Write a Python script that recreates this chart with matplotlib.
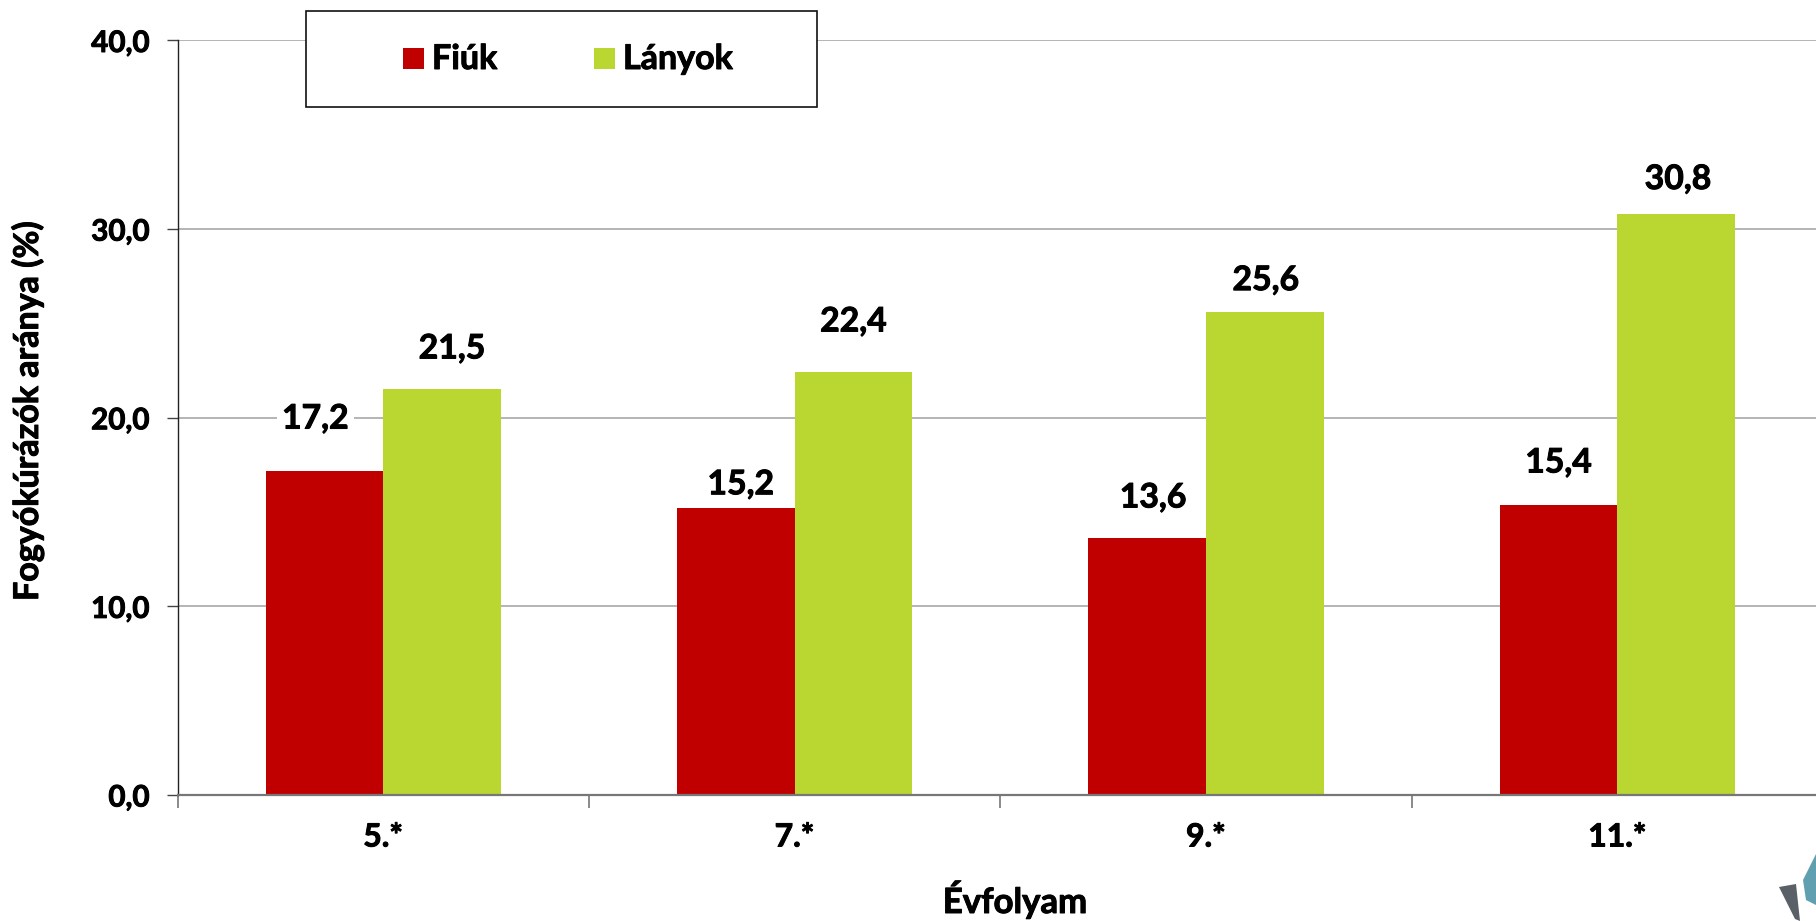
import numpy as np
import matplotlib
matplotlib.use('Agg')
import matplotlib.pyplot as plt
import matplotlib.patheffects as pe
from matplotlib.patches import Polygon, Rectangle

plt.rcParams['font.family'] = ['Lato', 'DejaVu Sans']
plt.rcParams['font.weight'] = 'bold'

grades = ['5.*', '7.*', '9.*', '11.*']
boys = [17.2, 15.2, 13.6, 15.4]
girls = [21.5, 22.4, 25.6, 30.8]
yticks = [0, 10, 20, 30, 40]

# label placement, in pixels relative to the bar centre / bar top
boys_off = [(-9, 52), (5, 24), (6, 41), (0, 42)]
girls_off = [(10, 41), (0, 51), (1, 32), (2, 35)]

heavy = [pe.withStroke(linewidth=0.7, foreground='black')]

W, H = 1816, 921
fig = plt.figure(figsize=(W/100, H/100), dpi=100)
ax = fig.add_axes([177.5/W, 1-795/H, 1645.5/W, (795-40.5)/H])

x = np.arange(len(grades))
bw = 117.5/411
bars1 = ax.bar(x-bw/2, boys, bw, color='#c00000', zorder=2)
bars2 = ax.bar(x+bw/2, girls, bw, color='#b9d631', zorder=2)

ax.set_xlim(-0.5, 3.5)
ax.set_ylim(0, 40)
ax.set_yticks(yticks)
ax.yaxis.set_major_formatter(lambda v, p: ('%.1f' % v).replace('.', ','))
ax.grid(axis='y', color='#a0a0a0', lw=1.1, zorder=0)
ax.set_axisbelow(True)

for s in ['top', 'right']:
    ax.spines[s].set_visible(False)
ax.spines['left'].set_color('#222222')
ax.spines['left'].set_linewidth(1)
ax.spines['bottom'].set_color('#777777')
ax.spines['bottom'].set_linewidth(1.6)
ax.tick_params(axis='y', length=8, width=1, color='#444444', labelsize=21.3, pad=12)
for t in ax.get_yticklabels():
    t.set_path_effects(heavy)

# category ticks sit between the groups, labels in the middle
ax.set_xticks(np.arange(-0.5, 4), minor=False)
ax.set_xticklabels([])
ax.tick_params(axis='x', length=9, width=1.2, color='#777777')
for i, g in enumerate(grades):
    ax.annotate(g, xy=(i, 0), xycoords=('data', 'axes fraction'), xytext=(0, -42),
                textcoords='offset pixels', ha='center', va='center', fontsize=23,
                annotation_clip=False, path_effects=heavy)

for vals, off, sign in [(boys, boys_off, -1), (girls, girls_off, 1)]:
    for i, v in enumerate(vals):
        t = ax.annotate(('%.1f' % v).replace('.', ','), xy=(i+sign*bw/2, v), xytext=off[i],
                        textcoords='offset pixels', ha='center', va='center',
                        fontsize=24.3, zorder=3, path_effects=heavy)
        t.set_bbox(dict(facecolor='white', edgecolor='none', pad=4))

fig.text(44/W, 1-411/H, 'Fogyókúrázók aránya (%)', rotation=90, ha='right', va='center',
         fontsize=24.5, path_effects=heavy)
fig.text(1015/W, 1-900/H, 'Évfolyam', ha='center', va='center', fontsize=25, path_effects=heavy)

# legend box
fig.add_artist(Rectangle((306/W, 1-106.5/H), 511/W, 95/H, transform=fig.transFigure,
                         fc='white', ec='#111111', lw=1.2, zorder=5))
fig.add_artist(Rectangle((403/W, 1-69/H), 21/W, 21/H, transform=fig.transFigure,
                         fc='#c00000', ec='none', zorder=6))
fig.add_artist(Rectangle((594/W, 1-69/H), 21/W, 21/H, transform=fig.transFigure,
                         fc='#b9d631', ec='none', zorder=6))
fig.text(432/W, 1-59/H, 'Fiúk', va='center', fontsize=24.5, zorder=7, path_effects=heavy)
fig.text(623/W, 1-59/H, 'Lányok', va='center', fontsize=24.5, zorder=7, path_effects=heavy)

# small logo fragment in the corner
fig.add_artist(Polygon([(1779/W, 1-887/H), (1796/W, 1-884/H), (1800/W, 1-921/H), (1795/W, 1-919/H)],
                       transform=fig.transFigure, fc='#5a6068', ec='none'))
fig.add_artist(Polygon([(1803/W, 1-880/H), (1816/W, 1-854/H), (1816/W, 1-905/H), (1806/W, 1-900/H)],
                       transform=fig.transFigure, fc='#5f9fb0', ec='none'))

fig.savefig('out.png', dpi=100)
